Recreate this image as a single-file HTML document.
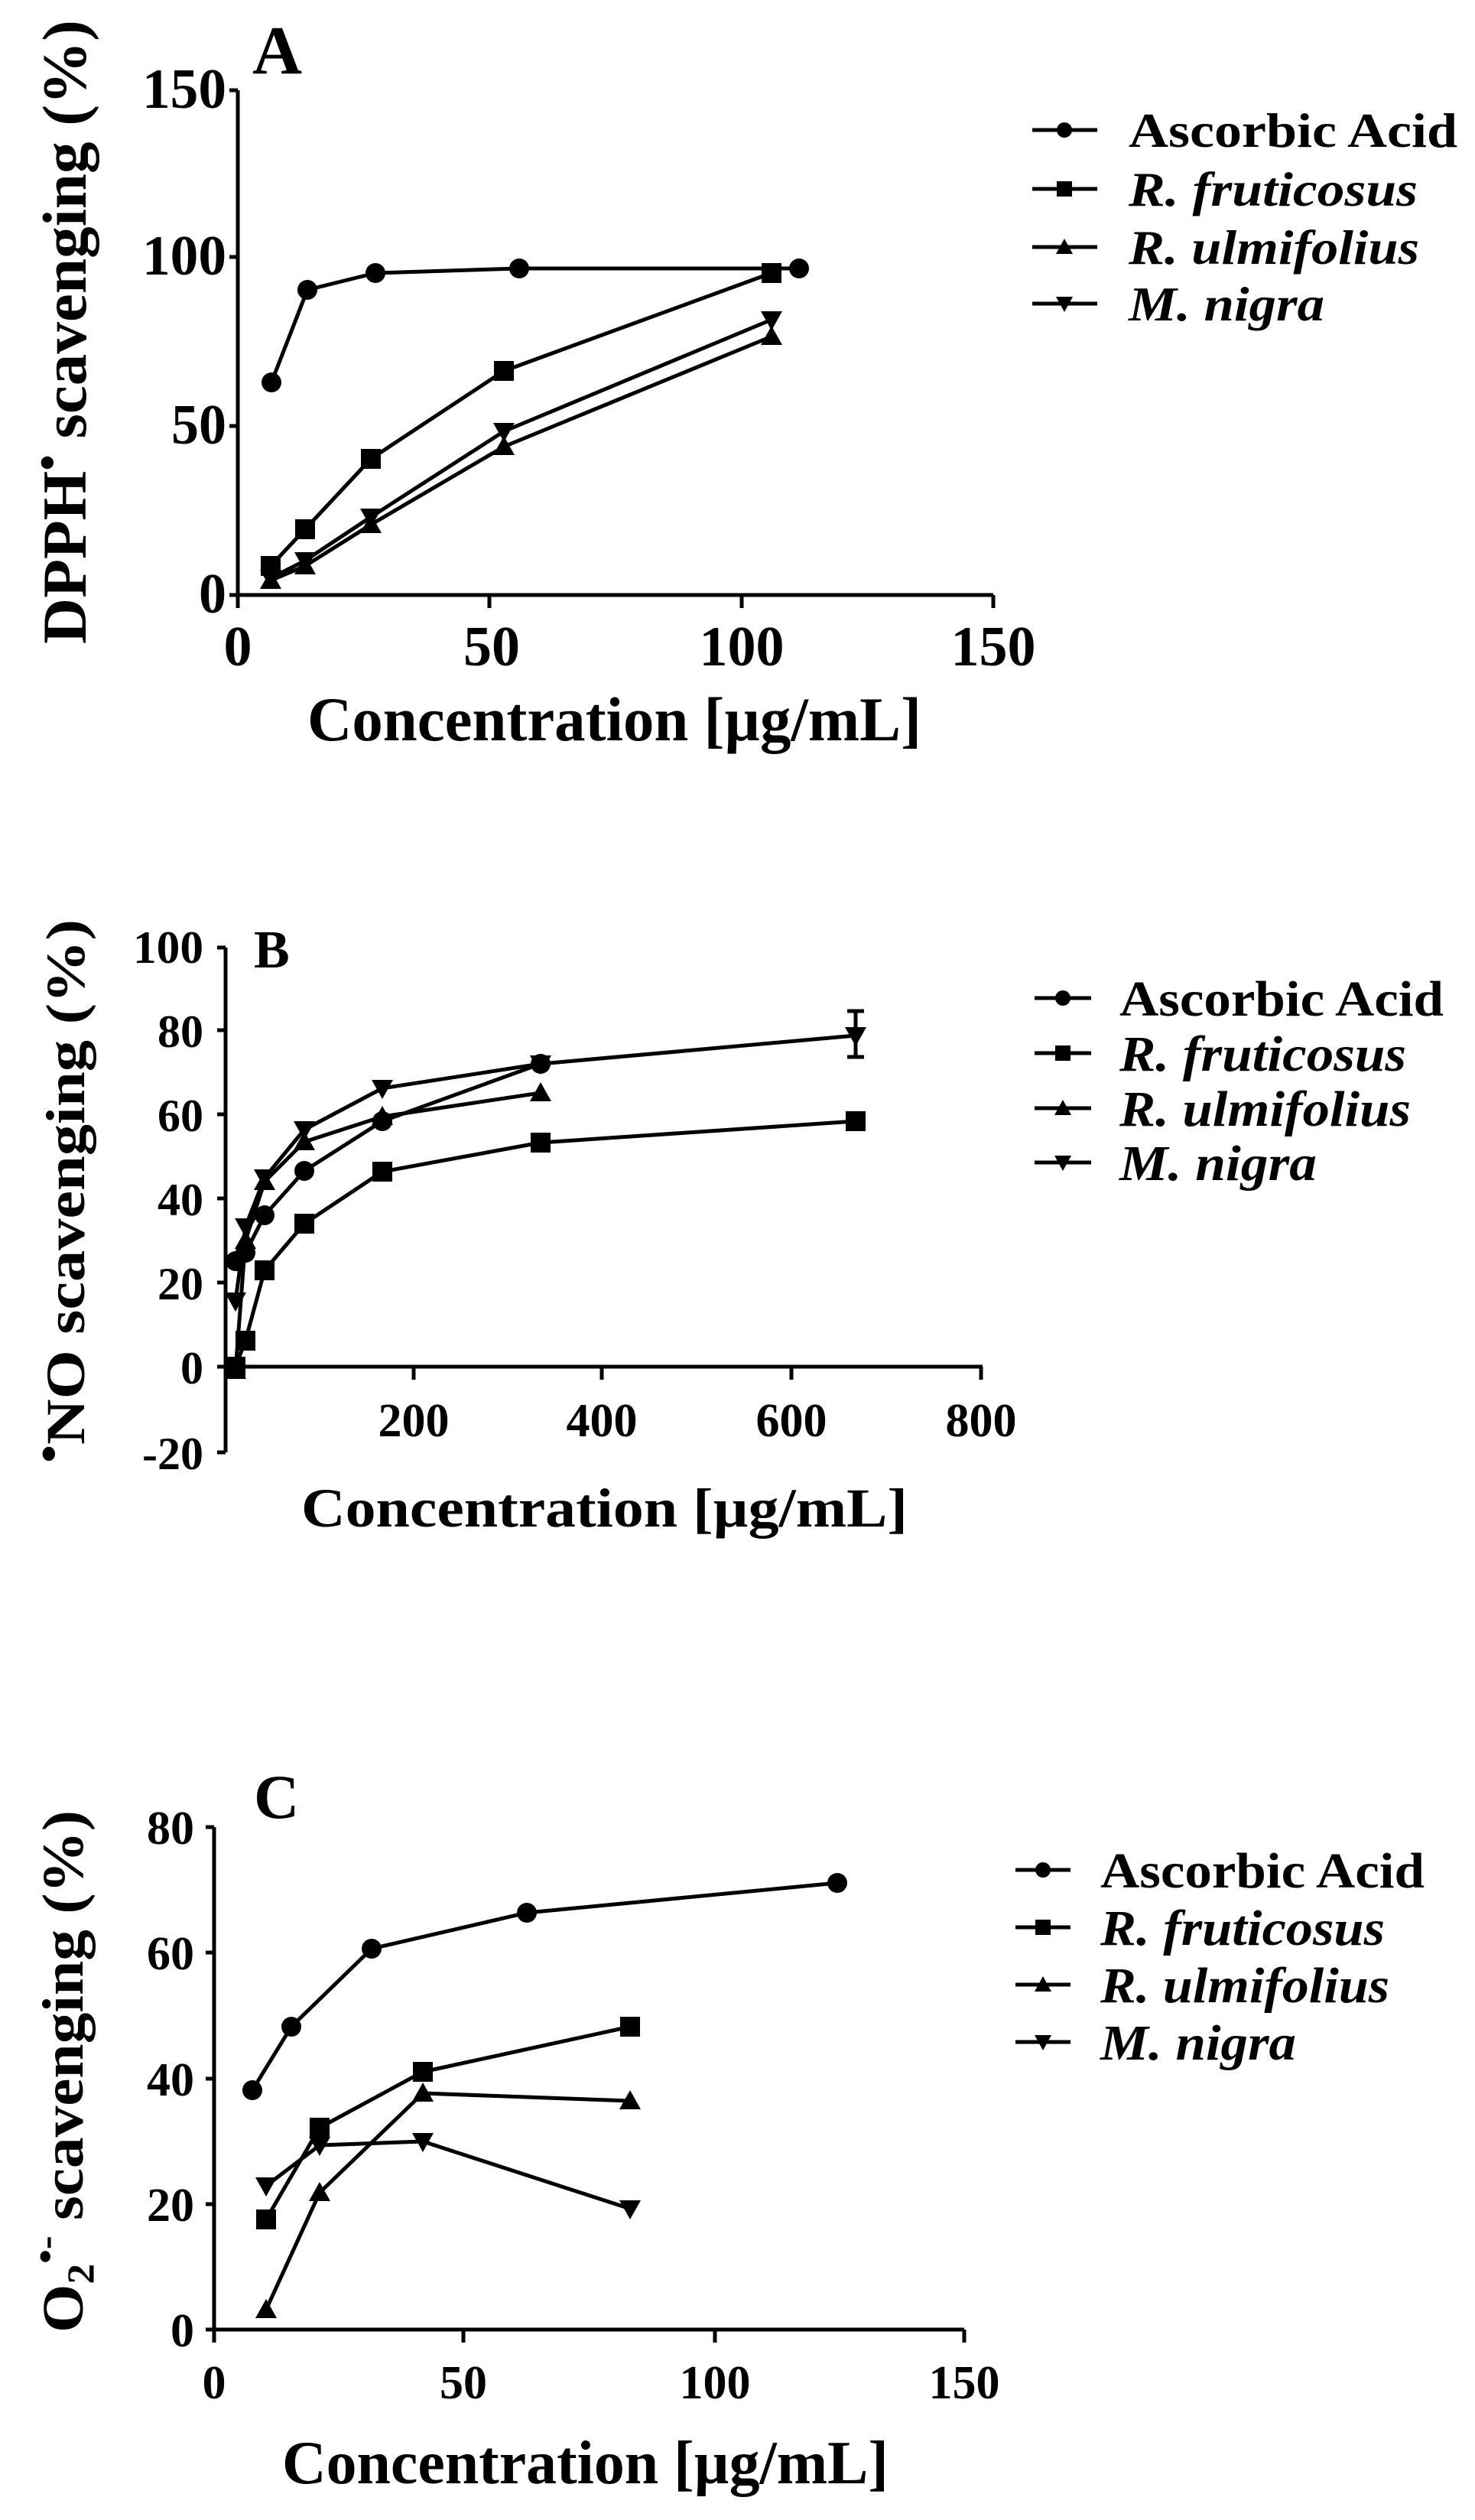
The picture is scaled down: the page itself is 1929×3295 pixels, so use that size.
<!DOCTYPE html>
<html><head><meta charset="utf-8"><style>
html,body{margin:0;padding:0;background:#fff}
svg{display:block}
text{font-family:"Liberation Serif",serif;font-weight:bold;fill:#000}
.it{font-style:italic}
</style></head><body>
<svg width="1929" height="3295" viewBox="0 0 1929 3295" xmlns="http://www.w3.org/2000/svg">
<defs>
<g id="c"><circle r="13"/></g>
<g id="s"><rect x="-13" y="-13" width="26" height="26"/></g>
<g id="u"><path d="M0,-14 L14,11 L-14,11Z"/></g>
<g id="d"><path d="M0,14 L14,-11 L-14,-11Z"/></g>
<g id="lc"><circle r="10"/></g>
<g id="ls"><rect x="-10" y="-10" width="20" height="20"/></g>
<g id="lu"><path d="M0,-11 L11,9 L-11,9Z"/></g>
<g id="ld"><path d="M0,11 L11,-9 L-11,-9Z"/></g>
</defs>

<!-- ========== PANEL A ========== -->
<g stroke="#000" stroke-width="5" fill="none">
<path d="M311,118 V778 H1299"/>
<path d="M300,118 H311 M300,336 H311 M300,557 H311 M300,778 H311"/>
<path d="M311,778 V795 M640,778 V795 M970,778 V795 M1299,778 V795"/>
</g>
<text x="330" y="96" font-size="90">A</text>
<g font-size="74" text-anchor="end">
<text x="296" y="141" textLength="110" lengthAdjust="spacingAndGlyphs">150</text>
<text x="296" y="359" textLength="110" lengthAdjust="spacingAndGlyphs">100</text>
<text x="296" y="580" textLength="72" lengthAdjust="spacingAndGlyphs">50</text>
<text x="296" y="801" textLength="36" lengthAdjust="spacingAndGlyphs">0</text>
</g>
<g font-size="74" text-anchor="middle">
<text x="311" y="870">0</text>
<text x="643" y="870">50</text>
<text x="970" y="870">100</text>
<text x="1299" y="870">150</text>
</g>
<text x="402" y="968" font-size="82" textLength="803" lengthAdjust="spacingAndGlyphs">Concentration [µg/mL]</text>
<text transform="translate(112,842) rotate(-90)" font-size="82" textLength="816" lengthAdjust="spacingAndGlyphs">DPPH<tspan dy="-30" font-size="60">•</tspan><tspan dy="30"> scavenging (%)</tspan></text>
<g stroke="#000" stroke-width="5" fill="none" stroke-linejoin="round">
<polyline points="355,500 402,379 491,357 679,351 1045,351"/>
<polyline points="354,740 399,692 485,600 659,485 1009,357"/>
<polyline points="354,759 399,740 485,686 659,584 1009,440"/>
<polyline points="354,756 399,733 485,676 659,564 1009,418"/>
</g>
<use href="#c" x="355" y="500"/><use href="#c" x="402" y="379"/><use href="#c" x="491" y="357"/><use href="#c" x="679" y="351"/><use href="#c" x="1045" y="351"/>
<use href="#s" x="354" y="740"/><use href="#s" x="399" y="692"/><use href="#s" x="485" y="600"/><use href="#s" x="659" y="485"/><use href="#s" x="1009" y="357"/>
<use href="#u" x="354" y="759"/><use href="#u" x="399" y="740"/><use href="#u" x="485" y="686"/><use href="#u" x="659" y="584"/><use href="#u" x="1009" y="440"/>
<use href="#d" x="354" y="756"/><use href="#d" x="399" y="733"/><use href="#d" x="485" y="676"/><use href="#d" x="659" y="564"/><use href="#d" x="1009" y="418"/>
<!-- legend A -->
<g stroke="#000" stroke-width="5"><path d="M1350,170 H1435 M1350,247 H1435 M1350,323 H1435 M1350,397 H1435"/></g>
<use href="#lc" x="1392" y="170"/><use href="#ls" x="1392" y="247"/><use href="#lu" x="1392" y="323"/><use href="#ld" x="1392" y="397"/>
<g font-size="64">
<text x="1476" y="192" textLength="430" lengthAdjust="spacingAndGlyphs">Ascorbic Acid</text>
<text x="1476" y="269" class="it" textLength="378" lengthAdjust="spacingAndGlyphs">R. fruticosus</text>
<text x="1476" y="345" class="it" textLength="380" lengthAdjust="spacingAndGlyphs">R. ulmifolius</text>
<text x="1476" y="419" class="it" textLength="256" lengthAdjust="spacingAndGlyphs">M. nigra</text>
</g>

<!-- ========== PANEL B ========== -->
<g stroke="#000" stroke-width="5" fill="none">
<path d="M295,1239 V1899"/>
<path d="M295,1787 H1285"/>
<path d="M284,1239 H295 M284,1347 H295 M284,1457 H295 M284,1567 H295 M284,1677 H295 M284,1787 H295 M284,1899 H295"/>
<path d="M541,1787 V1804 M787,1787 V1804 M1035,1787 V1804 M1283,1787 V1804"/>
</g>
<text x="332" y="1265" font-size="70">B</text>
<g font-size="60" text-anchor="end">
<text x="266" y="1259" textLength="92" lengthAdjust="spacingAndGlyphs">100</text>
<text x="266" y="1369">80</text>
<text x="266" y="1479">60</text>
<text x="266" y="1589">40</text>
<text x="266" y="1699">20</text>
<text x="266" y="1809">0</text>
<text x="266" y="1921">-20</text>
</g>
<g font-size="62" text-anchor="middle">
<text x="541" y="1878">200</text>
<text x="787" y="1878">400</text>
<text x="1035" y="1878">600</text>
<text x="1283" y="1878">800</text>
</g>
<text x="394" y="1996" font-size="72" textLength="793" lengthAdjust="spacingAndGlyphs">Concentration [µg/mL]</text>
<text transform="translate(110,1913) rotate(-90)" font-size="72" textLength="711" lengthAdjust="spacingAndGlyphs"><tspan dy="-26" font-size="60">•</tspan><tspan dy="26">NO scavenging (%)</tspan></text>
<g stroke="#000" stroke-width="5" fill="none" stroke-linejoin="round">
<polyline points="308,1649 321,1638 346,1589 398,1531 500,1466 707,1391"/>
<polyline points="308,1787 321,1753 346,1661 398,1600 500,1532 707,1494 1119,1466"/>
<polyline points="308,1792 321,1622 346,1545 398,1493 500,1460 707,1429"/>
<polyline points="308,1701 321,1604 346,1540 398,1477 500,1423 707,1391 1119,1354"/>
<path d="M1119,1322 V1382 M1108,1322 H1130 M1108,1382 H1130"/>
</g>
<use href="#c" x="308" y="1649"/><use href="#c" x="321" y="1638"/><use href="#c" x="346" y="1589"/><use href="#c" x="398" y="1531"/><use href="#c" x="500" y="1466"/><use href="#c" x="707" y="1391"/>
<use href="#s" x="308" y="1787"/><use href="#s" x="321" y="1753"/><use href="#s" x="346" y="1661"/><use href="#s" x="398" y="1600"/><use href="#s" x="500" y="1532"/><use href="#s" x="707" y="1494"/><use href="#s" x="1119" y="1466"/>
<use href="#u" x="308" y="1792"/><use href="#u" x="321" y="1622"/><use href="#u" x="346" y="1545"/><use href="#u" x="398" y="1493"/><use href="#u" x="500" y="1460"/><use href="#u" x="707" y="1429"/>
<use href="#d" x="308" y="1701"/><use href="#d" x="321" y="1604"/><use href="#d" x="346" y="1540"/><use href="#d" x="398" y="1477"/><use href="#d" x="500" y="1423"/><use href="#d" x="707" y="1391"/><use href="#d" x="1119" y="1354"/>
<!-- legend B -->
<g stroke="#000" stroke-width="5"><path d="M1353,1305 H1427 M1353,1377 H1427 M1353,1449 H1427 M1353,1520 H1427"/></g>
<use href="#lc" x="1390" y="1305"/><use href="#ls" x="1390" y="1377"/><use href="#lu" x="1390" y="1449"/><use href="#ld" x="1390" y="1520"/>
<g font-size="66">
<text x="1464" y="1328" textLength="424" lengthAdjust="spacingAndGlyphs">Ascorbic Acid</text>
<text x="1464" y="1400" class="it" textLength="375" lengthAdjust="spacingAndGlyphs">R. fruticosus</text>
<text x="1464" y="1472" class="it" textLength="381" lengthAdjust="spacingAndGlyphs">R. ulmifolius</text>
<text x="1464" y="1543" class="it" textLength="258" lengthAdjust="spacingAndGlyphs">M. nigra</text>
</g>

<!-- ========== PANEL C ========== -->
<g stroke="#000" stroke-width="5" fill="none">
<path d="M280,2389 V3046 H1261"/>
<path d="M269,2389 H280 M269,2553 H280 M269,2718 H280 M269,2882 H280 M269,3046 H280"/>
<path d="M280,3046 V3063 M606,3046 V3063 M935,3046 V3063 M1261,3046 V3063"/>
</g>
<text x="332" y="2377" font-size="82">C</text>
<g font-size="62" text-anchor="end">
<text x="254" y="2411">80</text>
<text x="254" y="2575">60</text>
<text x="254" y="2740">40</text>
<text x="254" y="2904">20</text>
<text x="254" y="3068">0</text>
</g>
<g font-size="62" text-anchor="middle">
<text x="280" y="3136">0</text>
<text x="606" y="3136">50</text>
<text x="935" y="3136">100</text>
<text x="1261" y="3136">150</text>
</g>
<text x="369" y="3247" font-size="80" textLength="793" lengthAdjust="spacingAndGlyphs">Concentration [µg/mL]</text>
<text transform="translate(108,3050) rotate(-90)" font-size="76" textLength="683" lengthAdjust="spacingAndGlyphs">O<tspan dy="14" font-size="50">2</tspan><tspan dy="-46" font-size="50">•-</tspan><tspan dy="32"> scavenging (%)</tspan></text>
<g stroke="#000" stroke-width="5" fill="none" stroke-linejoin="round">
<polyline points="330,2733 381,2650 486,2548 689,2501 1095,2462"/>
<polyline points="348,2902 418,2782 553,2709 824,2650"/>
<polyline points="348,3020 418,2867 553,2737 824,2747"/>
<polyline points="348,2858 418,2805 553,2800 824,2888"/>
</g>
<use href="#c" x="330" y="2733"/><use href="#c" x="381" y="2650"/><use href="#c" x="486" y="2548"/><use href="#c" x="689" y="2501"/><use href="#c" x="1095" y="2462"/>
<use href="#s" x="348" y="2902"/><use href="#s" x="418" y="2782"/><use href="#s" x="553" y="2709"/><use href="#s" x="824" y="2650"/>
<use href="#u" x="348" y="3020"/><use href="#u" x="418" y="2867"/><use href="#u" x="553" y="2737"/><use href="#u" x="824" y="2747"/>
<use href="#d" x="348" y="2858"/><use href="#d" x="418" y="2805"/><use href="#d" x="553" y="2800"/><use href="#d" x="824" y="2888"/>
<!-- legend C -->
<g stroke="#000" stroke-width="5"><path d="M1328,2445 H1400 M1328,2520 H1400 M1328,2595 H1400 M1328,2670 H1400"/></g>
<use href="#lc" x="1364" y="2445"/><use href="#ls" x="1364" y="2520"/><use href="#lu" x="1364" y="2595"/><use href="#ld" x="1364" y="2670"/>
<g font-size="66">
<text x="1439" y="2468" textLength="424" lengthAdjust="spacingAndGlyphs">Ascorbic Acid</text>
<text x="1439" y="2543" class="it" textLength="372" lengthAdjust="spacingAndGlyphs">R. fruticosus</text>
<text x="1439" y="2618" class="it" textLength="378" lengthAdjust="spacingAndGlyphs">R. ulmifolius</text>
<text x="1439" y="2693" class="it" textLength="256" lengthAdjust="spacingAndGlyphs">M. nigra</text>
</g>
</svg>
</body></html>
